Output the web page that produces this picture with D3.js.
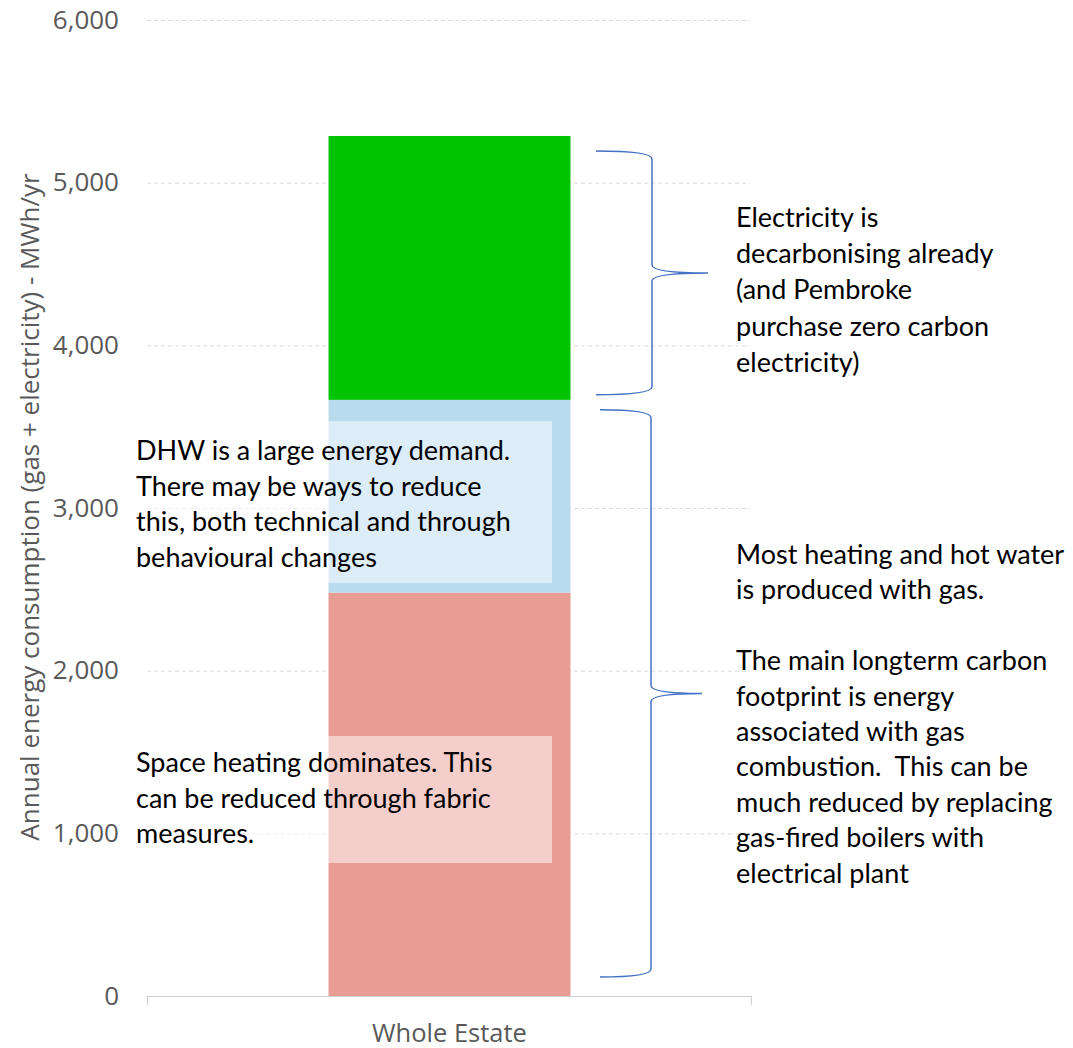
<!DOCTYPE html>
<html>
<head>
<meta charset="utf-8">
<script src="https://cdn.jsdelivr.net/npm/d3@7"></script>
<style>
  html, body { margin: 0; padding: 0; background: #fff; }
  svg { display: block; }
</style>
</head>
<body>
<svg id="chart" width="1073" height="1048"></svg>
<script>
// Stacked energy demand for the whole estate (MWh/yr)
const categories = ["Whole Estate"];
const seriesNames = ["Space heating", "DHW", "Electricity"];
const spaceHeating = [2480];
const dhw = [1185];
const electricity = [1622];
const yTicks = [0, 1000, 2000, 3000, 4000, 5000, 6000];
const seriesColors = ["#e89d94", "#b8dbee", "#00c400"];

const yTitle = "Annual energy consumption (gas + electricity) - MWh/yr";

const dhwNote = ["DHW is a large energy demand.", "There may be ways to reduce",
  "this, both technical and through", "behavioural changes"];
const heatNote = ["Space heating dominates. This", "can be reduced through fabric", "measures."];
const elecNote = ["Electricity is", "decarbonising already", "(and Pembroke",
  "purchase zero carbon", "electricity)"];
const gasNote = ["Most heating and hot water", "is produced with gas.", "",
  "The main longterm carbon", "footprint is energy", "associated with gas",
  "combustion.  This can be", "much reduced by replacing", "gas-fired boilers with",
  "electrical plant"];

const svg = d3.select("#chart");
const plot = { left: 147, right: 752, top: 20, bottom: 996 };

const y = d3.scaleLinear().domain([0, 6000]).range([plot.bottom, plot.top]);
const x = d3.scaleBand().domain(categories).range([plot.left, plot.right])
  .paddingInner(0.4286).paddingOuter(0.4286);

// table for the stack
const table = categories.map((c, i) => ({
  category: c,
  "Space heating": spaceHeating[i],
  "DHW": dhw[i],
  "Electricity": electricity[i]
}));
const stacked = d3.stack().keys(seriesNames)(table);

// gridlines
svg.append("g")
  .selectAll("line")
  .data(yTicks.filter(d => d > 0))
  .join("line")
  .attr("x1", plot.left).attr("x2", plot.right - 2)
  .attr("y1", d => y(d) + 0.5).attr("y2", d => y(d) + 0.5)
  .attr("stroke", "#d9d9d9").attr("stroke-width", 1)
  .attr("stroke-dasharray", "4,3");

// y axis labels (no axis line)
const yAxis = svg.append("g")
  .attr("transform", `translate(${plot.left},0)`)
  .call(d3.axisLeft(y).tickValues(yTicks).tickFormat(d3.format(",")).tickSize(0).tickPadding(28));
yAxis.select(".domain").remove();
yAxis.selectAll("text")
  .attr("fill", "#595959")
  .style("font-family", "'Open Sans', sans-serif")
  .style("font-size", "26px");

// x axis baseline with end ticks
const xAxis = svg.append("g")
  .attr("transform", `translate(0,${plot.bottom})`)
  .call(d3.axisBottom(x).tickSize(0).tickPadding(28));
xAxis.select(".domain")
  .attr("d", `M${plot.left + 0.5},9V0.5H${plot.right - 0.5}V9`)
  .attr("stroke", "#d0d0d0").attr("stroke-width", 1.2).attr("fill", "none");
xAxis.selectAll("text")
  .attr("fill", "#595959")
  .style("font-family", "'Open Sans', sans-serif")
  .style("font-size", "25.5px");

// stacked bar
svg.append("g")
  .selectAll("g")
  .data(stacked)
  .join("g")
  .attr("fill", (d, i) => seriesColors[i])
  .selectAll("rect")
  .data(d => d)
  .join("rect")
  .attr("x", d => x(d.data.category))
  .attr("width", x.bandwidth())
  .attr("y", d => y(d[1]))
  .attr("height", d => y(d[0]) - y(d[1]));

// y axis title
svg.append("text")
  .attr("transform", `translate(39,507) rotate(-90)`)
  .attr("text-anchor", "middle")
  .attr("fill", "#595959")
  .style("font-family", "'Open Sans', sans-serif")
  .style("font-size", "26px")
  .text(yTitle);

// note boxes with a translucent white background over the bar
function note(lines, x0, yFirst, lineH, box) {
  const g = svg.append("g");
  if (box) {
    g.append("rect")
      .attr("x", box.x).attr("y", box.y).attr("width", box.w).attr("height", box.h)
      .attr("fill", "#ffffff").attr("fill-opacity", 0.5);
  }
  g.append("text")
    .attr("fill", "#000")
    .style("font-family", "Lato, sans-serif")
    .style("font-size", "27px")
    .style("white-space", "pre")
    .selectAll("tspan")
    .data(lines)
    .join("tspan")
    .attr("x", x0)
    .attr("y", (d, i) => yFirst + i * lineH)
    .text(d => d);
}

note(dhwNote, 136, 460, 35.5, { x: 130, y: 421, w: 422, h: 162 });
note(heatNote, 136, 772, 35.5, { x: 130, y: 736, w: 422, h: 127 });
note(elecNote, 736, 227, 36.2, null);
note(gasNote, 736, 564, 35.4, null);

// curly braces marking the electricity and gas portions
function brace(xStart, xMid, xTip, yTop, yBot) {
  const yc = (yTop + yBot) / 2;
  const r = 8;
  const p = d3.path();
  p.moveTo(xStart, yTop);
  p.bezierCurveTo(xStart + 30, yTop, xMid, yTop + 2, xMid, yTop + r);
  p.lineTo(xMid, yc - r);
  p.bezierCurveTo(xMid, yc - 2, xTip - 30, yc, xTip, yc);
  p.moveTo(xTip, yc);
  p.bezierCurveTo(xTip - 30, yc, xMid, yc + 2, xMid, yc + r);
  p.lineTo(xMid, yBot - r);
  p.bezierCurveTo(xMid, yBot - 2, xStart + 30, yBot, xStart, yBot);
  svg.append("path")
    .attr("d", p.toString())
    .attr("fill", "none")
    .attr("stroke", "#4472c4")
    .attr("stroke-width", 1.5);
}

const gasTop = spaceHeating[0] + dhw[0];
const elecTop = gasTop + electricity[0];
brace(596, 652, 708, y(elecTop) + 15, y(gasTop) - 5);
brace(600, 651, 702, y(gasTop) + 10, y(0) - 19);
</script>
</body>
</html>
